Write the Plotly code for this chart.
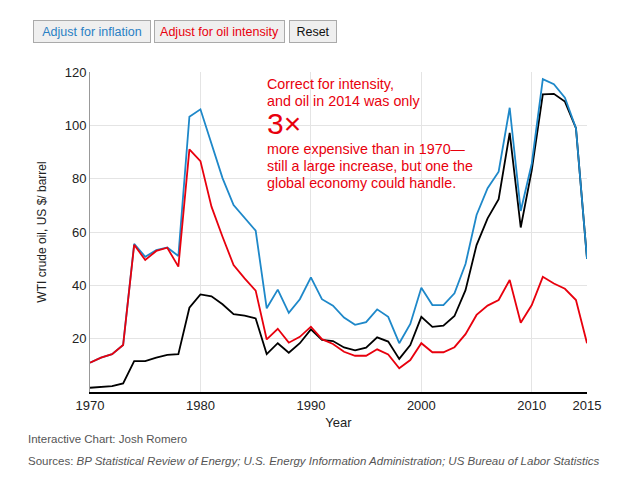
import plotly.graph_objects as go

years = list(range(1970, 2016))

inflation_adj = [11.0, 12.9, 14.2, 17.6, 55.6, 50.7, 53.2, 54.2, 51.0, 103.2,
                 106.0, 93.0, 80.2, 70.1, 65.4, 60.5, 31.4, 38.4, 29.7, 34.8,
                 43.0, 34.8, 32.4, 27.9, 25.2, 26.2, 31.0, 28.2, 18.3, 25.5,
                 39.1, 32.6, 32.6, 37.0, 48.0, 66.4, 76.4, 82.6, 106.6, 67.9,
                 85.7, 117.3, 115.4, 110.4, 98.9, 49.9]

intensity_adj = [11.0, 12.9, 14.2, 17.6, 55.2, 49.5, 52.9, 54.1, 47.0, 91.0,
                 86.6, 69.5, 58.2, 47.6, 42.6, 38.0, 19.7, 23.7, 18.5, 20.7,
                 24.5, 19.8, 18.0, 15.1, 13.6, 13.6, 16.0, 14.1, 8.9, 12.0,
                 18.3, 14.9, 14.9, 16.8, 21.7, 28.9, 32.4, 34.5, 42.0, 26.0,
                 32.6, 43.2, 40.7, 38.7, 34.5, 18.3]

nominal = [1.6, 1.9, 2.2, 3.2, 11.6, 11.6, 12.9, 13.9, 14.2, 31.6,
           36.6, 35.9, 32.9, 29.2, 28.6, 27.6, 14.2, 18.3, 14.7, 18.3,
           23.5, 19.5, 19.1, 16.7, 15.6, 16.6, 20.5, 18.9, 12.4, 17.6,
           28.2, 24.4, 24.9, 28.5, 38.2, 55.1, 65.1, 72.3, 97.2, 61.7,
           83.2, 111.6, 111.8, 108.9, 98.9, 49.9]

x_ticks = [1970, 1980, 1990, 2000, 2010, 2015]
y_ticks = [20, 40, 60, 80, 100, 120]

button_labels = ["Adjust for inflation", "Adjust for oil intensity", "Reset"]

BLUE = "#1e88c9"
RED = "#e8000d"
FONT = "Liberation Sans, Arial, sans-serif"

# page body has an 8px margin; work in figure pixels = screen pixels - 8
OFF = 8
FW, FH = 624, 480
L, R, T, B = 90 - OFF, 587 - OFF, 72 - OFF, 392 - OFF
W, H = R - L, B - T


def px(xs):
    return (xs - OFF - L) / W


def py(ys):
    return (B - (ys - OFF)) / H


fig = go.Figure()
fig.add_trace(go.Scatter(x=years, y=nominal, mode="lines", name="Nominal",
                         line=dict(color="#000000", width=1.8)))
fig.add_trace(go.Scatter(x=years, y=inflation_adj, mode="lines", name="Inflation-adjusted",
                         line=dict(color=BLUE, width=1.8)))
fig.add_trace(go.Scatter(x=years, y=intensity_adj, mode="lines", name="Intensity-adjusted",
                         line=dict(color=RED, width=1.8)))

fig.update_layout(
    width=FW, height=FH,
    margin=dict(l=L, r=FW - R, t=T, b=FH - B),
    paper_bgcolor="white", plot_bgcolor="white",
    showlegend=False,
    font=dict(family=FONT, color="#222"),
    xaxis=dict(range=[1970, 2015], tickvals=x_ticks, ticktext=[str(v) for v in x_ticks],
               showgrid=True, gridcolor="#e4e4e4", gridwidth=1,
               showline=True, linecolor="#000", linewidth=2,
               ticks="", tickfont=dict(size=13, color="#222"),
               zeroline=False,
               title=dict(text="Year", font=dict(size=13, color="#222"), standoff=6)),
    yaxis=dict(range=[0, 120], tickvals=y_ticks, showgrid=True, gridcolor="#e4e4e4",
               gridwidth=1, showline=True, linecolor="#999", linewidth=1,
               ticks="", tickfont=dict(size=13, color="#222"), zeroline=False,
               title=dict(text="WTI crude oil, US $/ barrel", font=dict(size=12, color="#222"),
                          standoff=15)),
)

# buttons (drawn as boxed text)
btn_specs = [(33, 151, "#2a7fc4"), (154, 285, RED), (289, 337, "#111")]
for label, (x0, x1, col) in zip(button_labels, btn_specs):
    fig.add_annotation(text=label, xref="paper", yref="paper",
                       x=px((x0 + x1) / 2), y=py(31.5), xanchor="center", yanchor="middle",
                       width=x1 - x0 - 2, height=21, align="center", valign="middle",
                       showarrow=False, bgcolor="#efefef", bordercolor="#aaaaaa",
                       borderwidth=1, borderpad=0,
                       font=dict(family=FONT, size=12.5, color=col))

lines = [
    ("Correct for intensity,", 84, 14.3),
    ("and oil in 2014 was only", 101, 14.3),
    ("3\u00d7", 123, 30),
    ("more expensive than in 1970\u2014", 149, 14.3),
    ("still a large increase, but one the", 166, 14.3),
    ("global economy could handle.", 183, 14.3),
]
for txt, yc, sz in lines:
    fig.add_annotation(text=txt, xref="paper", yref="paper", x=px(265), y=py(yc),
                       xanchor="left", yanchor="middle", showarrow=False,
                       font=dict(family=FONT, size=sz, color=RED))

fig.add_annotation(text="Interactive Chart: Josh Romero", xref="paper", yref="paper",
                   x=px(26), y=py(439), xanchor="left", yanchor="middle", showarrow=False,
                   font=dict(family=FONT, size=11.5, color="#555"))
fig.add_annotation(text="Sources: <i>BP Statistical Review of Energy; U.S. Energy Information Administration; US Bureau of Labor Statistics</i>",
                   xref="paper", yref="paper",
                   x=px(26), y=py(461), xanchor="left", yanchor="middle", showarrow=False,
                   font=dict(family=FONT, size=11.5, color="#555"))

fig.write_html("out.html")
